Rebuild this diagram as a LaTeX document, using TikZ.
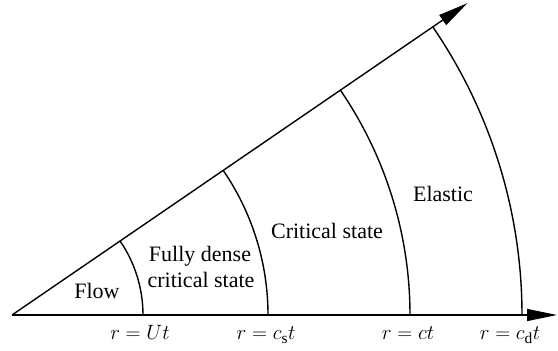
\documentclass[tikz,border=0pt]{standalone}
\usepackage{fontspec}
\setmainfont{LiberationSerif}[Extension=.ttf,UprightFont=*-Regular,ItalicFont=*-Italic,BoldFont=*-Bold]
\usetikzlibrary{arrows.meta}
\begin{document}
\begin{tikzpicture}[x=1pt,y=1pt,
  ln/.style={line width=1.4pt},
  axarrow/.style={ln,-{Triangle[length=30pt,width=12pt]}},
  lbl/.style={font=\rmfamily\fontsize{22}{25}\selectfont,anchor=base,inner sep=0pt,align=center},
  mlbl/.style={font=\rmfamily\fontsize{22}{25}\selectfont,anchor=base,inner sep=0pt}]
\useasboundingbox (-12,-36) rectangle (546,315);
\coordinate (O) at (0,0);
\coordinate (X) at (545,0);
\coordinate (D) at (34.4:552);
\draw[axarrow] (O) -- (X);
\draw[axarrow] (O) -- (D);
\foreach \r in {131,256,398,510}{
  \draw[ln] (\r,0) arc[start angle=0,end angle=34.4,radius=\r];
}
\node[lbl] (flow) at (85,16) {Flow};
\node[lbl] (fd1) at (188,53) {Fully dense};
\node[lbl] (fd2) at (189,27) {critical state};
\node[lbl] (cs) at (315,76) {Critical state};
\node[lbl] (el) at (431,113) {Elastic};
\node[mlbl] (m1) at (128,-25) {$r=Ut$};
\node[mlbl] (m2) at (254,-25) {$r=c_{\mathrm{s}}t$};
\node[mlbl] (m3) at (396,-25) {$r=ct$};
\node[mlbl] (m4) at (498,-25) {$r=c_{\mathrm{d}}t$};
\end{tikzpicture}
\end{document}
